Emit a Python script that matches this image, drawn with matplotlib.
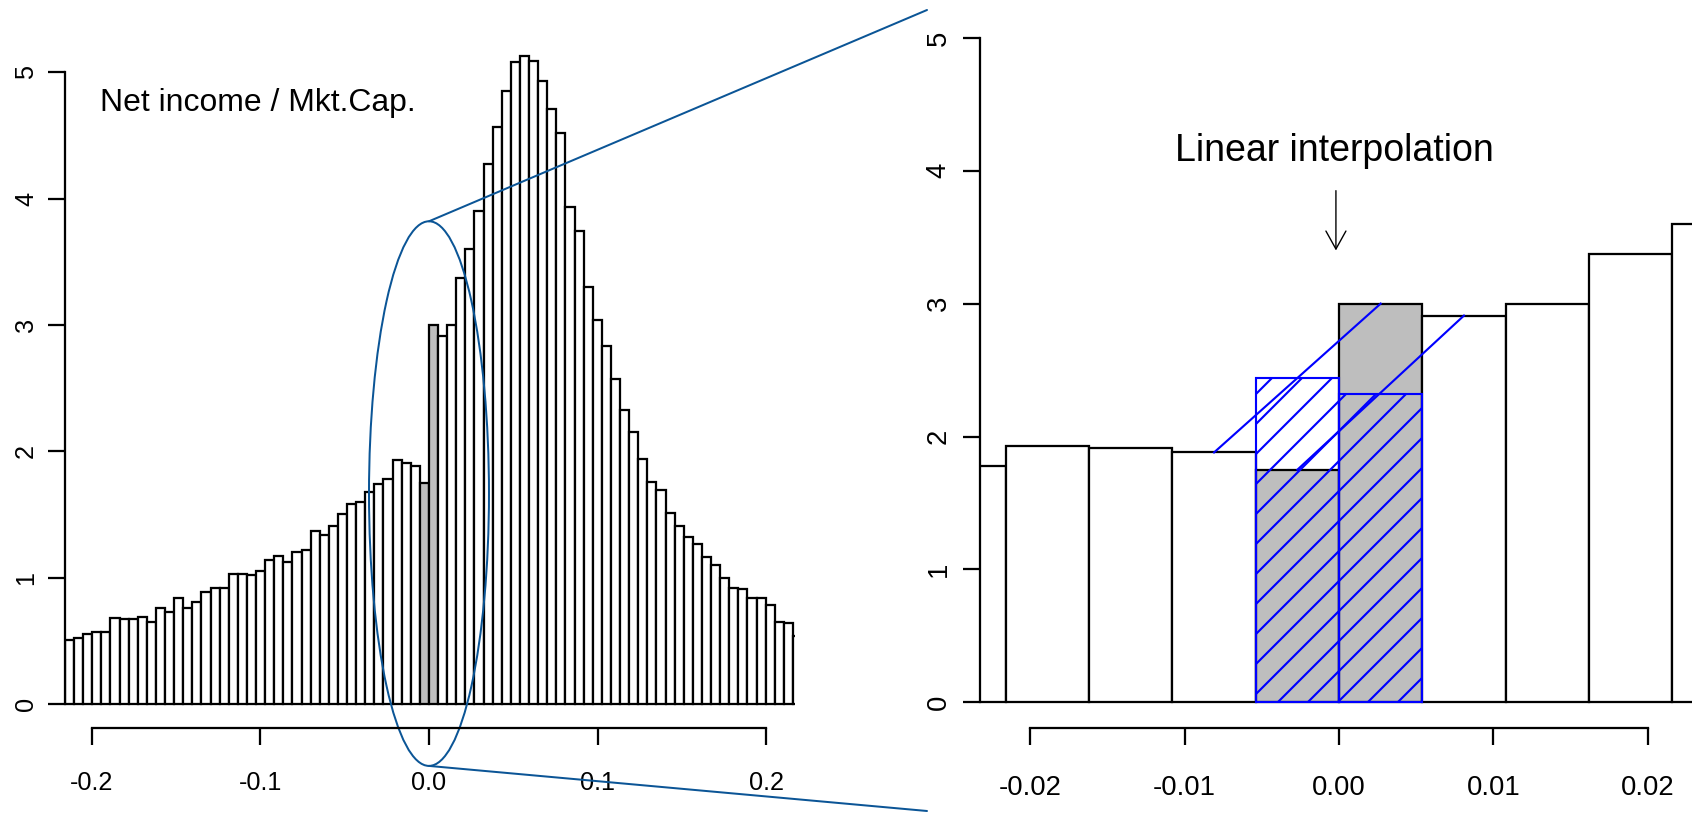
import numpy as np
import matplotlib
matplotlib.use("Agg")
import matplotlib.pyplot as plt
from matplotlib.patches import Ellipse, ConnectionPatch

plt.rcParams["font.family"] = ["Liberation Sans", "DejaVu Sans"]
plt.rcParams["hatch.linewidth"] = 0.85

# histogram of net income / market cap (density), bins of width 0.0054 from -0.216
bin_start = -0.216
bin_width = 0.0054
density = [0.51, 0.52, 0.55, 0.57, 0.57, 0.68, 0.67, 0.67, 0.69, 0.65,
           0.76, 0.73, 0.84, 0.76, 0.81, 0.89, 0.92, 0.92, 1.03, 1.03,
           1.02, 1.05, 1.14, 1.17, 1.12, 1.20, 1.22, 1.37, 1.34, 1.41,
           1.50, 1.58, 1.60, 1.68, 1.74, 1.78, 1.93, 1.91, 1.88, 1.75,
           3.00, 2.91, 3.00, 3.37, 3.60, 3.90, 4.27, 4.57, 4.85, 5.08,
           5.13, 5.09, 4.93, 4.71, 4.52, 3.93, 3.74, 3.30, 3.04, 2.83,
           2.57, 2.33, 2.15, 1.94, 1.76, 1.69, 1.51, 1.41, 1.32, 1.27,
           1.16, 1.10, 1.00, 0.92, 0.91, 0.84, 0.84, 0.78, 0.65, 0.64, 0.54]
shaded_bins = [39, 40]          # the two bins touching zero
interp_heights = [2.44, 2.32]   # linearly interpolated heights for those bins

left_xticks = [-0.2, -0.1, 0.0, 0.1, 0.2]
right_xticks = [-0.02, -0.01, 0.0, 0.01, 0.02]
yticks = [0, 1, 2, 3, 4, 5]

W, H, DPI = 1692, 815, 180
zoom_color = "#0b5596"
lw = 0.9


def px_axes(fig, x0, x1, ytop, ybot):
    # axes box given in pixels measured from the top-left corner
    return fig.add_axes([x0 / W, 1 - ybot / H, (x1 - x0) / W, (ybot - ytop) / H])


def draw_hist(ax):
    edges = bin_start + np.arange(len(density)) * bin_width
    colors = ["#BEBEBE" if i in shaded_bins else "white" for i in range(len(density))]
    ax.bar(edges, density, width=bin_width, align="edge", color=colors,
           edgecolor="black", linewidth=lw)
    return edges


def style_axes(ax, xticks, fmt, size, xpad, ypad):
    for s in ["top", "right"]:
        ax.spines[s].set_visible(False)
    ax.spines["left"].set_bounds(0, 5)
    ax.spines["bottom"].set_bounds(xticks[0], xticks[-1])
    for s in ["left", "bottom"]:
        ax.spines[s].set_linewidth(lw)
    ax.set_xticks(xticks, [fmt.format(t) for t in xticks])
    ax.set_yticks(yticks, [str(t) for t in yticks], rotation=90, va="center")
    ax.tick_params(axis="both", length=6.8, width=lw, labelsize=size)
    ax.tick_params(axis="x", pad=xpad)
    ax.tick_params(axis="y", pad=ypad)


fig = plt.figure(figsize=(W / DPI, H / DPI), dpi=DPI)

# left panel: full histogram
ax1 = px_axes(fig, 65.0, 795.0, 9.0, 728.0)
draw_hist(ax1)
ax1.set_xlim(-0.216, 0.2172)
ax1.set_ylim(-0.19, 5.5)
style_axes(ax1, left_xticks, "{:.1f}", 10.1, 10.5, 4.0)
ax1.text(-0.1953, 4.69, "Net income / Mkt.Cap.", fontsize=12.75, ha="left", va="baseline")

# ellipse around zero and the zoom lines
ax1.add_patch(Ellipse((0, 1.665), 0.0712, 4.31, fill=False, edgecolor=zoom_color,
                      linewidth=0.8, clip_on=False))
for y_a, y_b in [(3.82, 1 - 10 / H), (-0.49, 1 - 811 / H)]:
    con = ConnectionPatch(xyA=(0, y_a), coordsA=ax1.transData,
                          xyB=(927 / W, y_b), coordsB=fig.transFigure,
                          color=zoom_color, linewidth=0.8)
    fig.add_artist(con)

# right panel: zoom around zero
ax2 = px_axes(fig, 980.0, 1692.0, 4.6, 728.3)
edges = draw_hist(ax2)
ax2.set_xlim(-0.02327, 0.02288)
ax2.set_ylim(-0.1956, 5.25)
style_axes(ax2, right_xticks, "{:.2f}", 11.0, 12.0, 4.6)

centers = edges + bin_width / 2
for a, b in [(38, 40), (39, 41)]:
    ax2.plot([centers[a], centers[b]], [density[a], density[b]], color="blue",
             linewidth=0.85, zorder=4)
ax2.bar(edges[shaded_bins], interp_heights, width=bin_width, align="edge", fill=False,
        edgecolor="blue", hatch="//", linewidth=0.85, zorder=3)

ax2.text(-0.0003, 4.07, "Linear interpolation", fontsize=15.0, ha="center", va="baseline")
ax2.annotate("", xy=(-0.0002, 3.40), xytext=(-0.0002, 3.85),
             arrowprops=dict(arrowstyle="->,head_length=0.72,head_width=0.4",
                             mutation_scale=10, linewidth=0.55, color="black",
                             shrinkA=0, shrinkB=0))

fig.savefig("out.png", dpi=DPI)
